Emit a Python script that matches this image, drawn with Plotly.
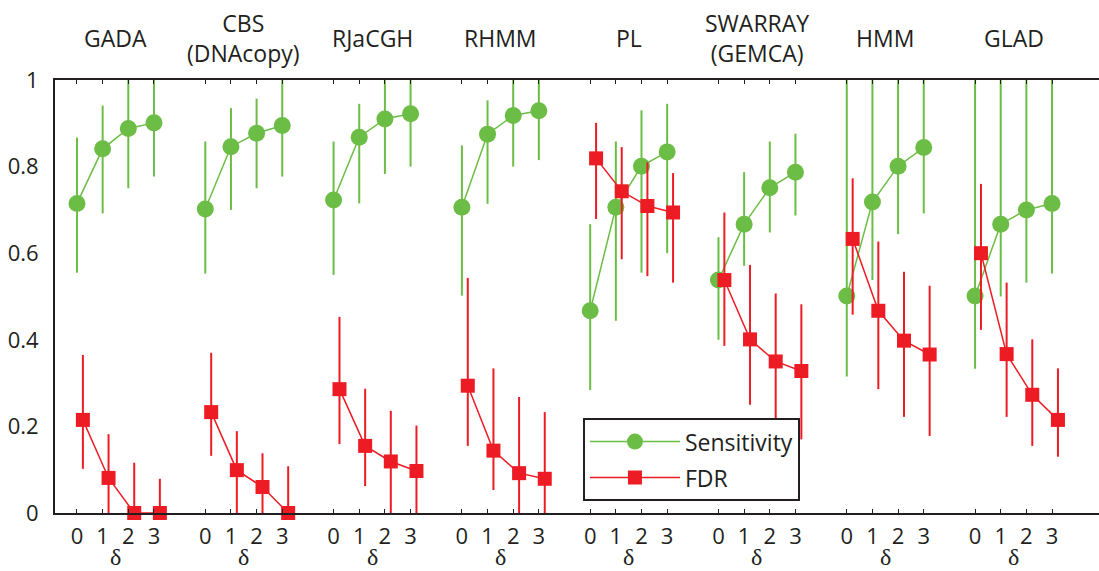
import plotly.graph_objects as go

methods = ["GADA", "CBS<br>(DNAcopy)", "RJaCGH", "RHMM", "PL", "SWARRAY<br>(GEMCA)", "HMM", "GLAD"]
deltas = ["0", "1", "2", "3"]

sens = [[0.715, 0.841, 0.888, 0.901], [0.702, 0.846, 0.877, 0.895], [0.723, 0.868, 0.910, 0.922],
        [0.706, 0.875, 0.918, 0.929], [0.467, 0.706, 0.801, 0.834], [0.538, 0.667, 0.751, 0.787],
        [0.501, 0.718, 0.801, 0.844], [0.501, 0.667, 0.700, 0.715]]
sens_lo = [[0.555, 0.692, 0.750, 0.777], [0.553, 0.700, 0.750, 0.777], [0.550, 0.715, 0.783, 0.800],
           [0.502, 0.714, 0.800, 0.815], [0.284, 0.444, 0.555, 0.600], [0.400, 0.571, 0.648, 0.687],
           [0.315, 0.538, 0.644, 0.692], [0.333, 0.500, 0.532, 0.553]]
sens_hi = [[0.867, 0.941, 1.0, 1.0], [0.858, 0.935, 0.957, 1.0], [0.858, 0.945, 1.0, 1.0],
           [0.849, 0.953, 1.0, 1.0], [0.667, 0.858, 0.930, 0.945], [0.637, 0.787, 0.858, 0.876],
           [1.0, 1.0, 1.0, 1.0], [1.0, 1.0, 1.0, 1.0]]

fdr = [[0.215, 0.081, 0.0, 0.0], [0.233, 0.099, 0.060, 0.0], [0.286, 0.155, 0.119, 0.097],
       [0.294, 0.144, 0.092, 0.079], [0.819, 0.743, 0.709, 0.694], [0.538, 0.401, 0.350, 0.328],
       [0.633, 0.467, 0.398, 0.366], [0.600, 0.367, 0.273, 0.215]]
fdr_lo = [[0.102, 0.0, 0.0, 0.0], [0.132, 0.0, 0.0, 0.0], [0.159, 0.062, 0.0, 0.0],
          [0.155, 0.053, 0.0, 0.0], [0.679, 0.586, 0.547, 0.532], [0.386, 0.250, 0.200, 0.170],
          [0.458, 0.286, 0.222, 0.178], [0.423, 0.222, 0.155, 0.130]]
fdr_hi = [[0.365, 0.182, 0.116, 0.079], [0.370, 0.189, 0.138, 0.108], [0.453, 0.287, 0.236, 0.202],
          [0.543, 0.334, 0.268, 0.233], [0.901, 0.845, 0.810, 0.785], [0.694, 0.573, 0.507, 0.482],
          [0.773, 0.627, 0.557, 0.525], [0.760, 0.532, 0.401, 0.334]]

GREEN = "#6cbd45"
RED = "#ed1c24"
AX = "#231f20"
FONT = "Open Sans"

fig = go.Figure()

def xpos(g, off=0.0):
    return [5 * g + d + off for d in range(len(deltas))]

for name, vals, lo, hi, color, sym, size, off in [
        ("Sensitivity", sens, sens_lo, sens_hi, GREEN, "circle", 17, 0.0),
        ("FDR", fdr, fdr_lo, fdr_hi, RED, "square", 14, 0.23)]:
    for g in range(len(methods)):
        v = vals[g]
        fig.add_trace(go.Scatter(
            x=xpos(g, off), y=v, mode="lines+markers", name=name,
            legendgroup=name, showlegend=(g == 0),
            line=dict(color=color, width=1.5),
            marker=dict(symbol=sym, size=size, color=color, line=dict(width=0)),
            error_y=dict(type="data", symmetric=False,
                         array=[h - y for h, y in zip(hi[g], v)],
                         arrayminus=[y - l for y, l in zip(v, lo[g])],
                         color=color, thickness=2, width=0),
            cliponaxis=False))

tickvals, ticktext = [], []
for g in range(len(methods)):
    tickvals += xpos(g)
    ticktext += deltas

annotations = []
for g, m in enumerate(methods):
    cx = 5 * g + 1.5
    annotations.append(dict(x=cx, y=1.097, xref="x", yref="paper", text=m, showarrow=False,
                            xanchor="center", yanchor="middle",
                            font=dict(family=FONT, size=23, color=AX)))
    annotations.append(dict(x=cx, y=-0.102, xref="x", yref="paper", text="δ", showarrow=False,
                            xanchor="center", yanchor="middle", borderpad=0,
                            font=dict(family="Liberation Serif", size=24, color=AX)))

fig.update_layout(
    width=1099, height=571, autosize=False,
    margin=dict(l=55, r=0, t=80, b=58),
    paper_bgcolor="white", plot_bgcolor="white",
    showlegend=True,
    legend=dict(x=0.5057, y=0.219, xanchor="left", yanchor="top",
                bgcolor="white", bordercolor=AX, borderwidth=2,
                font=dict(family=FONT, size=23, color=AX),
                itemwidth=90, tracegroupgap=3),
    annotations=annotations,
    xaxis=dict(range=[-0.857, 39.83], tickmode="array", tickvals=tickvals, ticktext=ticktext,
               showgrid=False, zeroline=False, showline=True, linecolor=AX, linewidth=2,
               mirror="ticks", ticks="inside", ticklen=4, tickcolor=AX, tickwidth=1,
               tickfont=dict(family=FONT, size=22, color=AX), ticklabelstandoff=3),
    yaxis=dict(range=[0, 1], tickvals=[0, 0.2, 0.4, 0.6, 0.8, 1],
               ticktext=["0", "0.2", "0.4", "0.6", "0.8", "1"],
               showgrid=False, zeroline=False, showline=True, linecolor=AX, linewidth=2,
               ticks="", tickfont=dict(family=FONT, size=22, color=AX), ticklabelstandoff=10),
)

fig.write_html("out.html")
